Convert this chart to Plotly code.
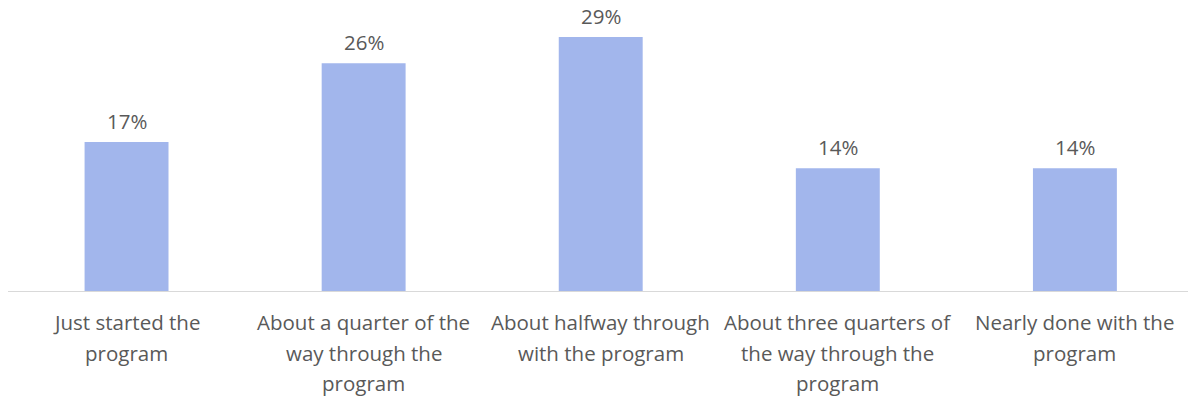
import plotly.graph_objects as go

# Survey: how far along respondents are in the program
categories = [
    "Just started the<br>program",
    "About a quarter of the<br>way through the<br>program",
    "About halfway through<br>with the program",
    "About three quarters of<br>the way through the<br>program",
    "Nearly done with the<br>program",
]
values = [17, 26, 29, 14, 14]
value_labels = ["17%", "26%", "29%", "14%", "14%"]

BAR_COLOR = "#A2B6EC"
TEXT_COLOR = "#595959"
FONT = "Open Sans"
FONT_SIZE = 20.5
LINE_GAP = 30.5  # px between wrapped label lines

x = list(range(len(categories)))

fig = go.Figure(
    go.Bar(
        x=x,
        y=values,
        width=0.354,
        marker=dict(color=BAR_COLOR, line=dict(width=0)),
        hoverinfo="skip",
    )
)

annotations = []
# value labels above each bar
for xi, v, lab in zip(x, values, value_labels):
    annotations.append(dict(
        x=xi, y=v, xref="x", yref="y", text=lab, showarrow=False,
        yanchor="bottom", yshift=5,
        font=dict(family=FONT, size=FONT_SIZE, color=TEXT_COLOR),
    ))
# category labels, one annotation per wrapped line
for xi, cat in zip(x, categories):
    for i, line in enumerate(cat.split("<br>")):
        annotations.append(dict(
            x=xi, y=0, xref="x", yref="paper", text=line, showarrow=False,
            yanchor="middle", yshift=-31 - i * LINE_GAP,
            font=dict(family=FONT, size=FONT_SIZE, color=TEXT_COLOR),
        ))

fig.update_layout(
    width=1188,
    height=398,
    margin=dict(l=8, r=0, t=0, b=107),
    paper_bgcolor="white",
    plot_bgcolor="white",
    showlegend=False,
    annotations=annotations,
    xaxis=dict(
        range=[-0.5, 4.477],
        showticklabels=False,
        ticks="",
        showgrid=False,
        zeroline=False,
        showline=True,
        linecolor="#D9D9D9",
        linewidth=1,
        fixedrange=True,
    ),
    yaxis=dict(
        range=[0, 33.22],
        visible=False,
        fixedrange=True,
    ),
)

fig.write_html("out.html", config={"displayModeBar": False})
